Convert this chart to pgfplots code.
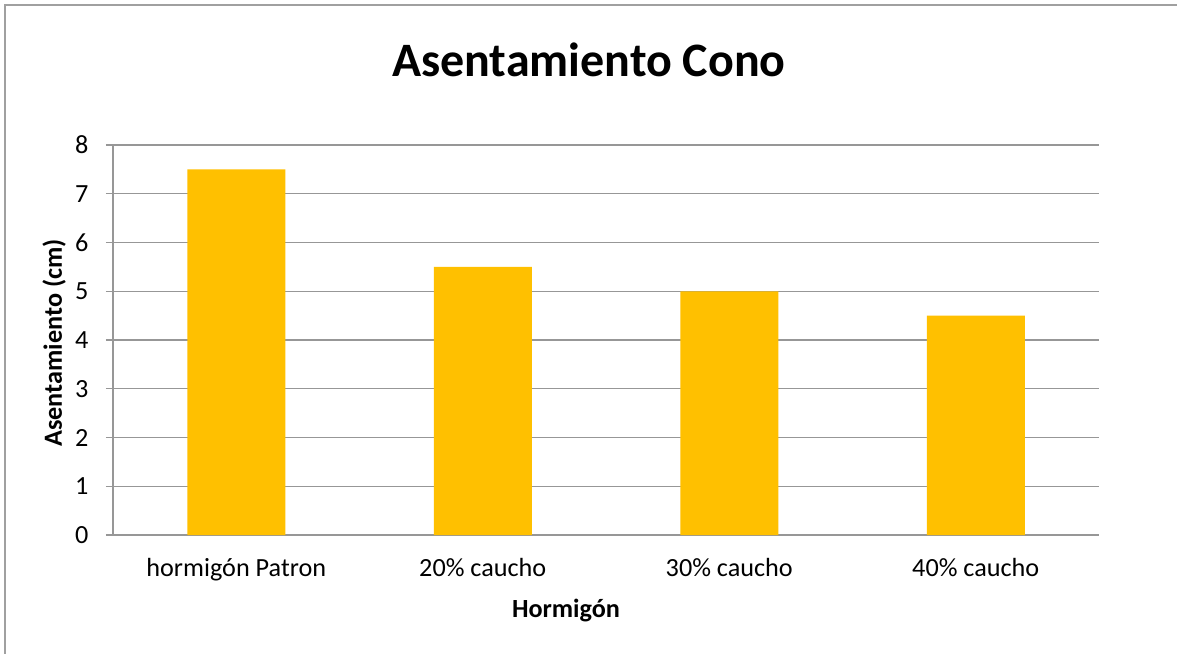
\documentclass[border=0pt]{standalone}
\usepackage{pgfplots}
\pgfplotsset{compat=1.18}
\usepackage{fontspec}
\setmainfont{Carlito}
\definecolor{barc}{HTML}{FFC000}
\definecolor{gridc}{HTML}{979797}
\definecolor{framec}{HTML}{A0A0A0}
\begin{document}
\begin{tikzpicture}[x=1pt,y=1pt]
% axis origin (lower left of the plot area) sits at the picture origin
\useasboundingbox (-113,535) rectangle (1064,-118);
\fill[white] (-113,535) rectangle (1064,-118);
\draw[framec, line width=2pt] (-107.5,-125) -- (-107.5,529.5) -- (1070,529.5);
\begin{axis}[
  scale only axis, width=986pt, height=390pt,
  xmin=-0.5, xmax=3.5, ymin=0, ymax=8,
  ytick={0,1,2,3,4,5,6,7,8},
  xtick={0,1,2,3},
  xticklabels={hormigón Patron, 20\% caucho, 30\% caucho, 40\% caucho},
  axis lines*=left,
  axis line style={gridc, line width=1.4pt},
  tick align=outside,
  major tick length=7pt,
  ytick style={gridc, line width=1.4pt},
  xtick style={draw=none},
  ymajorgrids,
  grid style={gridc, line width=1.4pt},
  tick label style={font=\fontsize{26.2}{30}\selectfont, text=black},
  /pgf/number format/assume math mode=true,
  yticklabel style={xshift=-14pt},
  xticklabel style={yshift=-13pt},
  clip=false,
]
\addplot[ybar, bar width=98pt, fill=barc, draw=none] coordinates {(0,7.5) (1,5.5) (2,5) (3,4.5)};
\end{axis}
\node[anchor=base, font=\bfseries\fontsize{48}{52}\selectfont] at (476,458) {Asentamiento Cono};
\node[anchor=base, font=\bfseries\fontsize{26.2}{30}\selectfont] at (453,-82) {Hormigón};
\node[rotate=90, anchor=base, font=\bfseries\fontsize{26.2}{30}\selectfont] at (-51,192) {Asentamiento (cm)};
\end{tikzpicture}
\end{document}
